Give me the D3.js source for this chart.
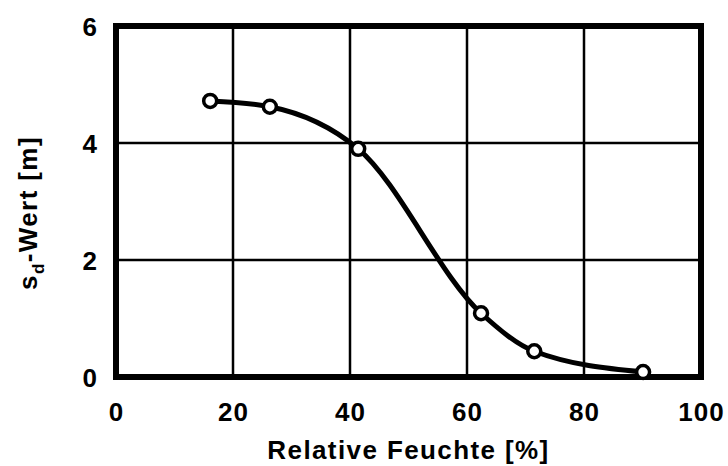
<!DOCTYPE html>
<html><head><meta charset="utf-8">
<script src="https://cdn.jsdelivr.net/npm/d3@7"></script>
<style>body{margin:0;background:#fff}svg{display:block}text{font-family:"Liberation Sans",Arial,sans-serif;font-weight:bold;fill:#000}</style>
</head><body><svg id="c" width="728" height="466"></svg>
<script>
const humidity = [16.1, 26.3, 41.4, 62.4, 71.5, 90.1];
const sdValue = [4.72, 4.62, 3.9, 1.09, 0.44, 0.085];
const xTicks = [0, 20, 40, 60, 80, 100];
const yTicks = [0, 2, 4, 6];
const xTitle = "Relative Feuchte [%]";

const svg = d3.select("#c");
const L = 116, R = 701, T = 26, B = 377;
const x = d3.scaleLinear().domain([0, 100]).range([L, R]);
const y = d3.scaleLinear().domain([0, 6]).range([B, T]);

// grid
svg.append("g").selectAll("line").data(xTicks.slice(1, -1)).join("line")
  .attr("x1", d => x(d)).attr("x2", d => x(d)).attr("y1", T).attr("y2", B)
  .attr("stroke", "#000").attr("stroke-width", 2.5);
svg.append("g").selectAll("line").data(yTicks.slice(1, -1)).join("line")
  .attr("y1", d => y(d)).attr("y2", d => y(d)).attr("x1", L).attr("x2", R)
  .attr("stroke", "#000").attr("stroke-width", 2.5);

// frame
svg.append("rect").attr("x", L).attr("y", T).attr("width", R - L).attr("height", B - T)
  .attr("fill", "none").attr("stroke", "#000").attr("stroke-width", 6);

const fontStyle = sel => sel.style("font-size", "26px").style("letter-spacing", "1px")
  .style("font-family", "Liberation Sans, Arial, sans-serif").style("font-weight", "bold");

// axes tick labels
const xAxis = d3.axisBottom(x).tickValues(xTicks).tickSize(0).tickPadding(26).tickFormat(d3.format("d"));
const gx = svg.append("g").attr("transform", `translate(0,${B})`).call(xAxis);
gx.select(".domain").remove();
gx.selectAll("text").call(fontStyle);

const yAxis = d3.axisLeft(y).tickValues(yTicks).tickSize(0).tickPadding(18).tickFormat(d3.format("d"));
const gy = svg.append("g").attr("transform", `translate(${L},0)`).call(yAxis);
gy.select(".domain").remove();
gy.selectAll("text").call(fontStyle).attr("dy", "0.36em");

// titles
svg.append("text").attr("x", (L + R) / 2).attr("y", 459).attr("text-anchor", "middle")
  .style("font-size", "26px").style("letter-spacing", "1.4px").text(xTitle);
const yt = svg.append("text").attr("transform", "translate(37,213) rotate(-90)").attr("text-anchor", "middle")
  .style("font-size", "26px").style("letter-spacing", "1.4px");
yt.append("tspan").text("s");
yt.append("tspan").attr("dy", 7).style("font-size", "17px").text("d");
yt.append("tspan").attr("dy", -7).text("-Wert [m]");

// curve
const pts = humidity.map((h, i) => [h, sdValue[i]]);
svg.append("path").datum(pts)
  .attr("d", d3.line().x(d => x(d[0])).y(d => y(d[1])).curve(d3.curveMonotoneX))
  .attr("fill", "none").attr("stroke", "#000").attr("stroke-width", 5);

svg.append("g").selectAll("circle").data(pts).join("circle")
  .attr("cx", d => x(d[0])).attr("cy", d => y(d[1])).attr("r", 6.5)
  .attr("fill", "#fff").attr("stroke", "#000").attr("stroke-width", 3.5);
</script></body></html>
